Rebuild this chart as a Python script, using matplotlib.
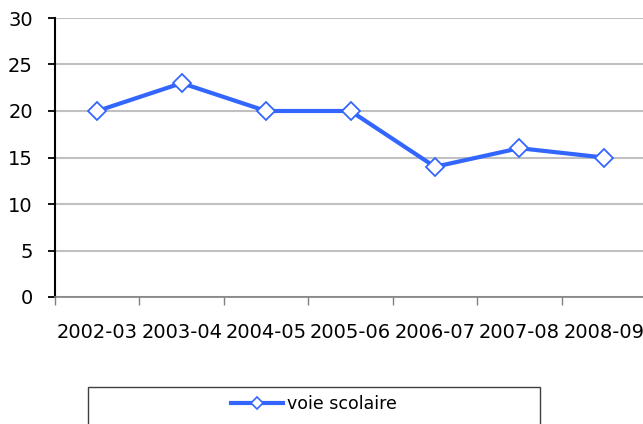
import matplotlib.pyplot as plt
from matplotlib.patches import Rectangle
from matplotlib.lines import Line2D

# donnees
annees = ['2002-03', '2003-04', '2004-05', '2005-06', '2006-07', '2007-08', '2008-09']
voie_scolaire = [20, 23, 20, 20, 14, 16, 15]

W, H = 643, 424
fig = plt.figure(figsize=(W / 100, H / 100), dpi=100)
ax = fig.add_axes([55 / W, (H - 297) / H, 591 / W, 279 / H])

x = [i + 0.5 for i in range(len(annees))]
couleur = '#3366ff'
ax.plot(x, voie_scolaire, color=couleur, lw=3, marker='D', ms=9.5,
        mfc='white', mec=couleur, mew=1.3, zorder=3)

ax.set_xlim(0, len(annees))
ax.set_ylim(0, 30)
ax.set_yticks(range(0, 31, 5))
ax.yaxis.grid(True, color='#c0c0c0', lw=1.5)
ax.set_axisbelow(True)

ax.set_xticks(range(len(annees) + 1))
ax.set_xticklabels([])
ax.set_xticks(x, minor=True)
ax.set_xticklabels(annees, minor=True)
ax.tick_params(axis='x', which='major', length=6, color='#808080', width=1)
ax.tick_params(axis='x', which='minor', length=0, pad=19, labelsize=14)
ax.tick_params(axis='y', length=5, width=1.3, color='black', labelsize=14, pad=11)

ax.spines['top'].set_visible(False)
ax.spines['right'].set_visible(False)
ax.spines['left'].set_linewidth(1.5)
ax.spines['bottom'].set_color('#808080')
ax.spines['bottom'].set_linewidth(1.2)

# cadre de la legende
fig.patches.append(Rectangle((88 / W, -0.05), 452 / W, (H - 387) / H + 0.05,
                             transform=fig.transFigure, fill=False,
                             ec='#404040', lw=1))
h = Line2D([], [], color=couleur, lw=3, marker='D', ms=6,
           mfc='white', mec=couleur, mew=1.2)
fig.legend([h], ['voie scolaire'], loc='center', frameon=False,
           bbox_to_anchor=(314 / W, (H - 404) / H), fontsize=12.5,
           handlelength=3.0, handletextpad=0.2)

fig.savefig('out.png', dpi=100)
